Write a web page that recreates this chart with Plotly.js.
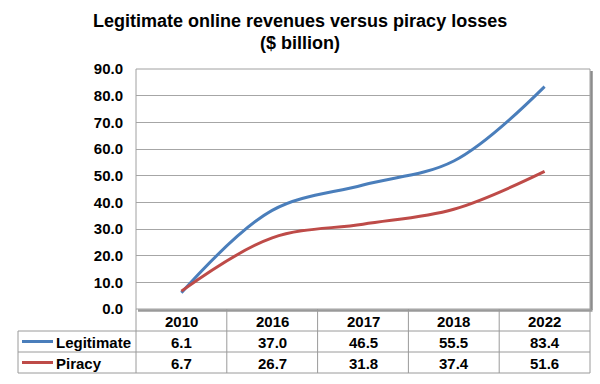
<!DOCTYPE html>
<html>
<head>
<meta charset="utf-8">
<script src="https://cdn.plot.ly/plotly-3.0.1.min.js"></script>
<style>html,body{margin:0;padding:0;background:#fff;}#chart{width:600px;height:384px;}</style>
</head>
<body>
<div id="chart"></div>
<script>
const years = ['2010', '2016', '2017', '2018', '2022'];
const legitimate = [6.1, 37.0, 46.5, 55.5, 83.4];
const piracy = [6.7, 26.7, 31.8, 37.4, 51.6];
const seriesNames = ['Legitimate', 'Piracy'];
const seriesValues = [legitimate, piracy];
const seriesColors = ['#4a7ebb', '#be4b48'];
const titleLines = ['Legitimate online revenues versus piracy losses', '($ billion)'];

const W = 600, H = 384;
const M = {l: 136, r: 10, t: 69, b: 75};
const PW = W - M.l - M.r, PH = H - M.t - M.b;
const px = p => (p - M.l) / PW;          // pixel x -> paper x
const py = p => (H - M.b - p) / PH;      // pixel y -> paper y
const FONT = 'Arial, "Liberation Sans", sans-serif';
const gridCol = '#a6a6a6';
const borderCol = '#a0a0a0';
const tableCol = '#9a9a9a';

const traces = seriesNames.map((name, i) => ({
  type: 'scatter', mode: 'lines', name: name,
  x: years, y: seriesValues[i],
  line: {color: seriesColors[i], width: 3, shape: 'spline', smoothing: 1},
  hoverinfo: 'skip'
}));

const shapes = [];
const annotations = [];
// plot border
shapes.push({type: 'rect', xref: 'paper', yref: 'paper', x0: 0, x1: 1, y0: 0, y1: 1, line: {color: borderCol, width: 1}});
// shadow right & bottom
shapes.push({type: 'line', xref: 'paper', yref: 'paper', x0: 1 + 1.5 / PW, x1: 1 + 1.5 / PW, y0: -1 / PH, y1: 1 - 2 / PH, line: {color: '#8c8c8c', width: 2.5}});
shapes.push({type: 'line', xref: 'paper', yref: 'paper', x0: 2 / PW, x1: 1 + 2.5 / PW, y0: -1.5 / PH, y1: -1.5 / PH, line: {color: '#9a9a9a', width: 2.5}});

// title
const titleFont = {family: FONT, size: 18, color: '#000', weight: 'bold'};
annotations.push({xref: 'paper', yref: 'paper', x: px(300), y: py(21), text: titleLines[0], showarrow: false, font: titleFont, xanchor: 'center', yanchor: 'middle'});
annotations.push({xref: 'paper', yref: 'paper', x: px(300), y: py(43), text: titleLines[1], showarrow: false, font: titleFont, xanchor: 'center', yanchor: 'middle'});

// table rows
const rowTop = 309, rowH = [331, 352, 373];
const tableLeft = 18, tableRight = 590;
rowH.forEach(r => shapes.push({type: 'line', xref: 'paper', yref: 'paper', x0: px(tableLeft), x1: px(tableRight), y0: py(r), y1: py(r), line: {color: tableCol, width: 1}}));
shapes.push({type: 'line', xref: 'paper', yref: 'paper', x0: px(tableLeft), x1: px(tableLeft), y0: py(rowH[0]), y1: py(rowH[2]), line: {color: tableCol, width: 1}});
for (let i = 0; i <= years.length; i++) {
  const xp = i / years.length;
  shapes.push({type: 'line', xref: 'paper', yref: 'paper', x0: xp, x1: xp, y0: py(rowTop), y1: py(rowH[2]), line: {color: tableCol, width: 1}});
}
const txtFont = {family: FONT, size: 15, color: '#000', weight: 'bold'};
// header
years.forEach((yr, i) => annotations.push({xref: 'x', yref: 'paper', x: i, y: py((rowTop + rowH[0]) / 2 + 1), text: yr, showarrow: false, font: txtFont, xanchor: 'center', yanchor: 'middle'}));
// rows
seriesNames.forEach((name, s) => {
  const top = rowH[s], bot = rowH[s + 1];
  const cy = py((top + bot) / 2 + 0.5);
  shapes.push({type: 'line', xref: 'paper', yref: 'paper', x0: px(22), x1: px(53), y0: py((top + bot) / 2), y1: py((top + bot) / 2), line: {color: seriesColors[s], width: 3}});
  annotations.push({xref: 'paper', yref: 'paper', x: px(54), y: cy, text: name, showarrow: false, font: txtFont, xanchor: 'left', yanchor: 'middle'});
  years.forEach((yr, i) => annotations.push({xref: 'x', yref: 'paper', x: i, y: cy, text: seriesValues[s][i].toFixed(1), showarrow: false, font: txtFont, xanchor: 'center', yanchor: 'middle'}));
});

const layout = {
  width: W, height: H, margin: M,
  paper_bgcolor: '#fff', plot_bgcolor: '#fff',
  showlegend: false,
  xaxis: {type: 'category', range: [-0.5, years.length - 0.5], showticklabels: false, showgrid: false, zeroline: false, showline: false, fixedrange: true},
  yaxis: {range: [0, 90], dtick: 10, tick0: 0, tickformat: '.1f', showgrid: true, gridcolor: gridCol, gridwidth: 1, zeroline: false, showline: false,
    ticks: '', ticklabelstandoff: 12, tickfont: {family: FONT, size: 15, color: '#000', weight: 'bold'}, fixedrange: true},
  shapes: shapes,
  annotations: annotations
};
Plotly.newPlot('chart', traces, layout, {displayModeBar: false, staticPlot: true});
</script>
</body>
</html>
